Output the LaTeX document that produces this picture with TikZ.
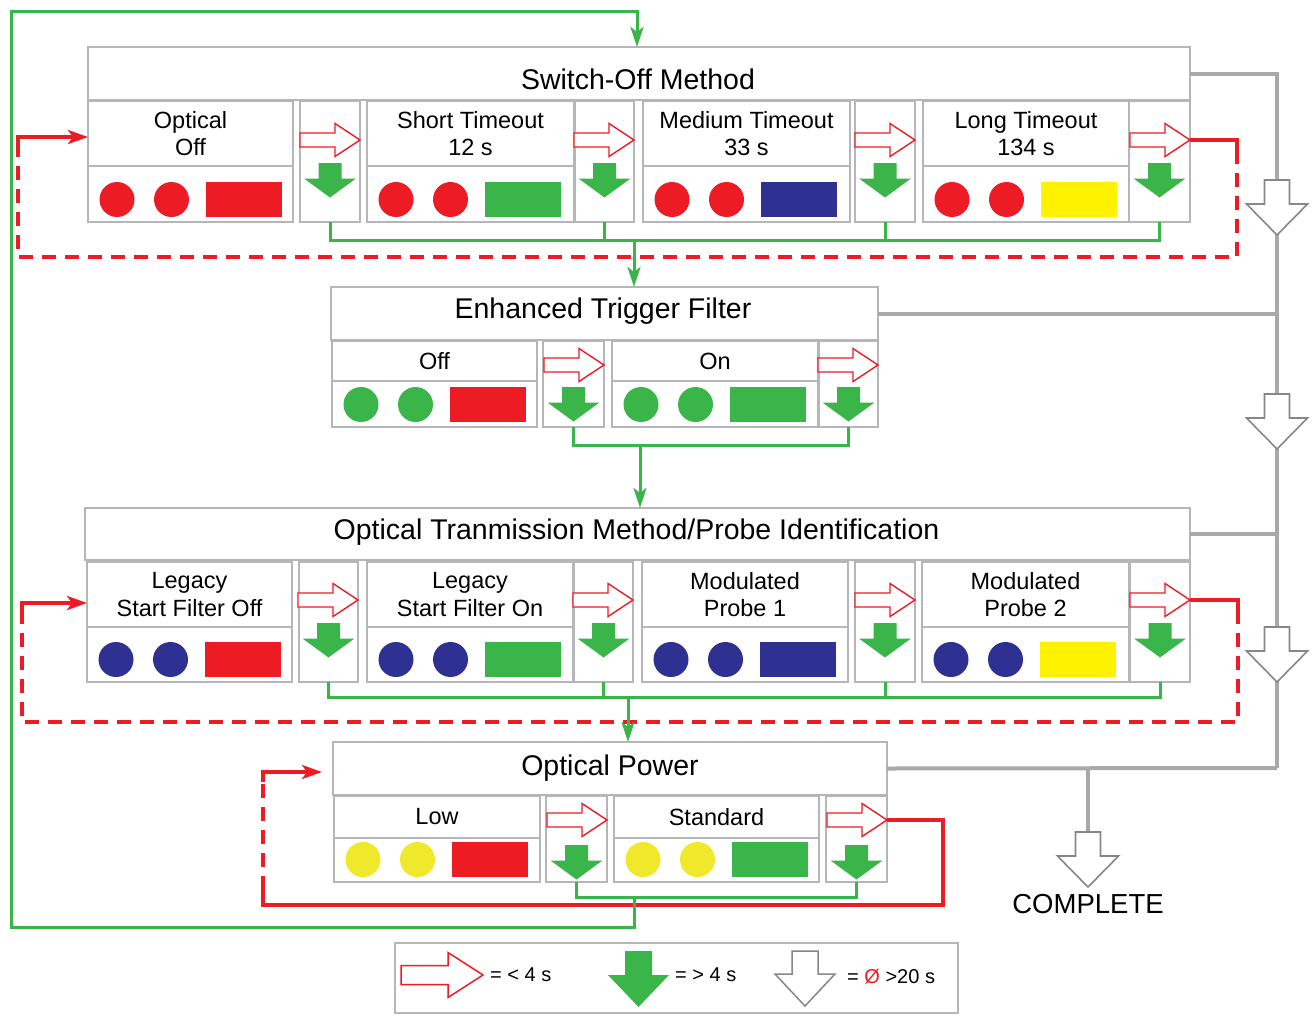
\documentclass[tikz,border=0pt]{standalone}
\usepackage{fontspec}
\setmainfont{Liberation Sans}
\usetikzlibrary{arrows.meta,calc}
\definecolor{rred}{HTML}{ED1C24}
\definecolor{ggreen}{HTML}{39B54A}
\definecolor{bblue}{HTML}{2E3192}
\definecolor{yrect}{HTML}{FFF200}
\definecolor{ycirc}{HTML}{F0E82A}
\definecolor{boxgray}{HTML}{B4B6B8}
\definecolor{lgray}{HTML}{A7A9AC}
\definecolor{agray}{HTML}{858789}
\tikzset{
 cellbox/.style={draw=boxgray, line width=2pt, fill=white, inner sep=0pt, outer sep=0pt, anchor=north west},
 gline/.style={draw=ggreen, line width=3pt},
 garrow/.style={gline, -{Stealth[length=20pt,width=13pt,inset=5pt]}},
 rline/.style={draw=rred, line width=3.5pt},
 rarrow/.style={rline, -{Stealth[length=20pt,width=14pt,inset=5pt]}},
 rdash/.style={rline, dash pattern=on 14pt off 9pt},
 grayline/.style={draw=lgray, line width=4pt},
 ttl/.style={font=\fontsize{28.5}{32}\selectfont, anchor=base, inner sep=0pt},
 lbl/.style={font=\fontsize{23.5}{27.5}\selectfont, align=center, inner sep=0pt},
 legtxt/.style={font=\fontsize{20}{23}\selectfont, anchor=west, inner sep=0pt},
 redright/.pic={\draw[rred, line width=1.4pt, fill=white, line join=miter] (-30,-7) -- (5,-7) -- (5,-16.5) -- (30,0) -- (5,16.5) -- (5,7) -- (-30,7) -- cycle;},
 greendown/.pic={\fill[ggreen] (-11.5,0) -- (11.5,0) -- (11.5,15.5) -- (26,15.5) -- (0,34.5) -- (-26,15.5) -- (-11.5,15.5) -- cycle;},
 hollowdown/.pic={\draw[agray, line width=1.6pt, fill=white] (-12.5,0) -- (12.5,0) -- (12.5,24) -- (30.5,24) -- (0,55) -- (-30.5,24) -- (-12.5,24) -- cycle;},
}
% name, x1, x2, ytop, ymid, ybot, text, circle colour, rect colour
\newcommand\mklab[9]{%
 \node[cellbox, minimum width={#3-#2}, minimum height={#5-#4}] (#1t) at (#2,#4) {};
 \node[cellbox, minimum width={#3-#2}, minimum height={#6-#5}] (#1s) at (#2,#5) {};
 \node[lbl] (#1x) at (#1t.center) {#7};
 \fill[#8] ({#2+29},{#6-22.5}) circle[radius=17.5pt];
 \fill[#8] ({#2+83.5},{#6-22.5}) circle[radius=17.5pt];
 \fill[#9] ({#2+118},{#6-40}) rectangle ({#2+194},{#6-5});
}
% name, x1, x2, ytop, ybot, red y, green top y
\newcommand\mkarr[7]{%
 \node[cellbox, minimum width={#3-#2}, minimum height={#5-#4}] (#1) at (#2,#4) {};
 \pic at ({#3-30},#6) {redright};
 \pic at ({(#2+#3)/2},#7) {greendown};
}
\begin{document}
\begin{tikzpicture}[x=1pt,y=-1pt]
\useasboundingbox (0,0) rectangle (1312,1015);
\fill[white] (0,0) rectangle (1312,1015);

% ---------- Section 1 ----------
\node[cellbox, minimum width=1102, minimum height=53] (somt) at (88,47) {};
\node[ttl] (somx) at (638,89) {Switch-Off Method};
\mklab{s1c1}{88}{293}{101}{166}{222}{Optical\\Off}{rred}{rred}
\mkarr{s1a1}{300}{360}{101}{222}{140}{163}
\mklab{s1c2}{367}{574}{101}{166}{222}{Short Timeout\\12 s}{rred}{ggreen}
\mkarr{s1a2}{575}{634}{101}{222}{140}{163}
\mklab{s1c3}{643}{850}{101}{166}{222}{Medium Timeout\\33 s}{rred}{bblue}
\mkarr{s1a3}{855}{915}{101}{222}{140}{163}
\mklab{s1c4}{923}{1129}{101}{166}{222}{Long Timeout\\134 s}{rred}{yrect}
\mkarr{s1a4}{1129}{1190}{101}{222}{140}{163}

% ---------- Section 2 ----------
\node[cellbox, minimum width=547, minimum height=53] (etft) at (331,287) {};
\node[ttl] (etfx) at (603,318) {Enhanced Trigger Filter};
\mklab{s2c1}{332}{537}{341}{381}{427}{Off}{ggreen}{rred}
\mkarr{s2a1}{543}{604}{341}{427}{365}{387}
\mklab{s2c2}{612}{818}{341}{381}{427}{On}{ggreen}{ggreen}
\mkarr{s2a2}{819}{878}{341}{427}{365}{387}

% ---------- Section 3 ----------
\node[cellbox, minimum width=1105, minimum height=52] (otmt) at (85,508) {};
\node[ttl] (otmx) at (636.5,539) {Optical Tranmission Method/Probe Identification};
\mklab{s3c1}{87}{292}{562}{627}{682}{Legacy\\Start Filter Off}{bblue}{rred}
\mkarr{s3a1}{299}{358}{562}{682}{600}{623}
\mklab{s3c2}{367}{573}{562}{627}{682}{Legacy\\Start Filter On}{bblue}{ggreen}
\mkarr{s3a2}{574}{633}{562}{682}{600}{623}
\mklab{s3c3}{642}{848}{562}{627}{682}{Modulated\\Probe 1}{bblue}{bblue}
\mkarr{s3a3}{855}{915}{562}{682}{600}{623}
\mklab{s3c4}{922}{1129}{562}{627}{682}{Modulated\\Probe 2}{bblue}{yrect}
\mkarr{s3a4}{1130}{1190}{562}{682}{600}{623}

% ---------- Section 4 ----------
\node[cellbox, minimum width=554, minimum height=53] (opt) at (333,742) {};
\node[ttl] (opx) at (610,775) {Optical Power};
\mklab{s4c1}{334}{540}{796}{838}{882}{Low}{ycirc}{rred}
\mkarr{s4a1}{546}{607}{796}{882}{820}{845}
\mklab{s4c2}{614}{819}{796}{838}{882}{Standard}{ycirc}{ggreen}
\mkarr{s4a2}{826}{887}{796}{882}{820}{845}

% ---------- grey "complete" paths ----------
\coordinate (gc) at (1277,768);
\coordinate (cc) at (1088,768);
\coordinate (ct) at (1088,832);
\draw[grayline] (somt.east) -| (gc);
\draw[grayline] (etft.east) -- (etft.east -| gc);
\draw[grayline] (otmt.east) -- (otmt.east -| gc);
\draw[grayline] (opt.east) -- (gc);
\draw[grayline] (cc) -- (ct);
\pic at (1277,180) {hollowdown};
\pic at (1277,394) {hollowdown};
\pic at (1277,627) {hollowdown};
\pic at (ct) {hollowdown};
\node[font=\fontsize{27.5}{30}\selectfont, inner sep=0pt] (done) at (1088,904) {COMPLETE};

% ---------- red loops ----------
\coordinate (r1s) at (1190,140);
\coordinate (r1e) at (88,137);
\draw[rline] (r1s) -- (1237,140) -- (1237,150);
\draw[rdash] (1237,150) -- (1237,257) -- (18,257) -- (18,150);
\draw[rarrow] (18,150) -- (18,137) -- (r1e);

\coordinate (r3s) at (1190,600);
\coordinate (r3e) at (87,603);
\draw[rline] (r3s) -- (1238,600) -- (1238,610);
\draw[rdash] (1238,610) -- (1238,722) -- (22,722) -- (22,613);
\draw[rarrow] (22,613) -- (22,603) -- (r3e);

\coordinate (r4s) at (887,820);
\coordinate (r4e) at (322,772);
\draw[rline] (r4s) -- (943,820) -- (943,905) -- (263,905) -- (263,890);
\draw[rdash] (263,890) -- (263,782);
\draw[rarrow] (263,782) -- (263,772) -- (r4e);

% ---------- green flows ----------
\draw[gline] (s1a1.south) -- ++(0,18) -| (s1a4.south);
\draw[gline] (s1a2.south) -- ++(0,18);
\draw[gline] (s1a3.south) -- ++(0,18);
\coordinate (b1) at (634,240);
\draw[garrow] (b1) -- (b1 |- etft.north);

\draw[gline] (s2a1.south) -- ++(0,18) -| (s2a2.south);
\coordinate (b2) at (640,445);
\draw[garrow] (b2) -- (b2 |- otmt.north);

\draw[gline] (s3a1.south) -- ++(0,15) -| (s3a4.south);
\draw[gline] (s3a2.south) -- ++(0,15);
\draw[gline] (s3a3.south) -- ++(0,15);
\coordinate (b3) at (628,697);
\draw[garrow] (b3) -- (b3 |- opt.north);

\draw[gline] (s4a1.south) -- ++(0,15) -| (s4a2.south);
\coordinate (b4) at (634,897);
\coordinate (lc1) at (11,927);
\coordinate (lc2) at (637,11);
\draw[garrow] (b4) |- (lc1) |- (lc2) -- (lc2 |- somt.north);

% ---------- legend ----------
\node[cellbox, minimum width=563, minimum height=70] (leg) at (395,943) {};
\draw[rred, line width=1.5pt, fill=white] (401,965.5) -- (448,965.5) -- (448,952.5) -- (483,975) -- (448,997.5) -- (448,984.5) -- (401,984.5) -- cycle;
\node[legtxt] (l1) at (490,975) {= < 4 s};
\fill[ggreen] (625,951) -- (652,951) -- (652,975) -- (669,975) -- (638.5,1007) -- (608,975) -- (625,975) -- cycle;
\node[legtxt] (l2) at (675,975) {= > 4 s};
\draw[agray, line width=1.5pt, fill=white] (792,951) -- (818,951) -- (818,974) -- (835,974) -- (805,1006) -- (775,974) -- (792,974) -- cycle;
\node[legtxt] (l3) at (847,977) {= \textcolor{rred}{Ø} >20 s};
\end{tikzpicture}
\end{document}
